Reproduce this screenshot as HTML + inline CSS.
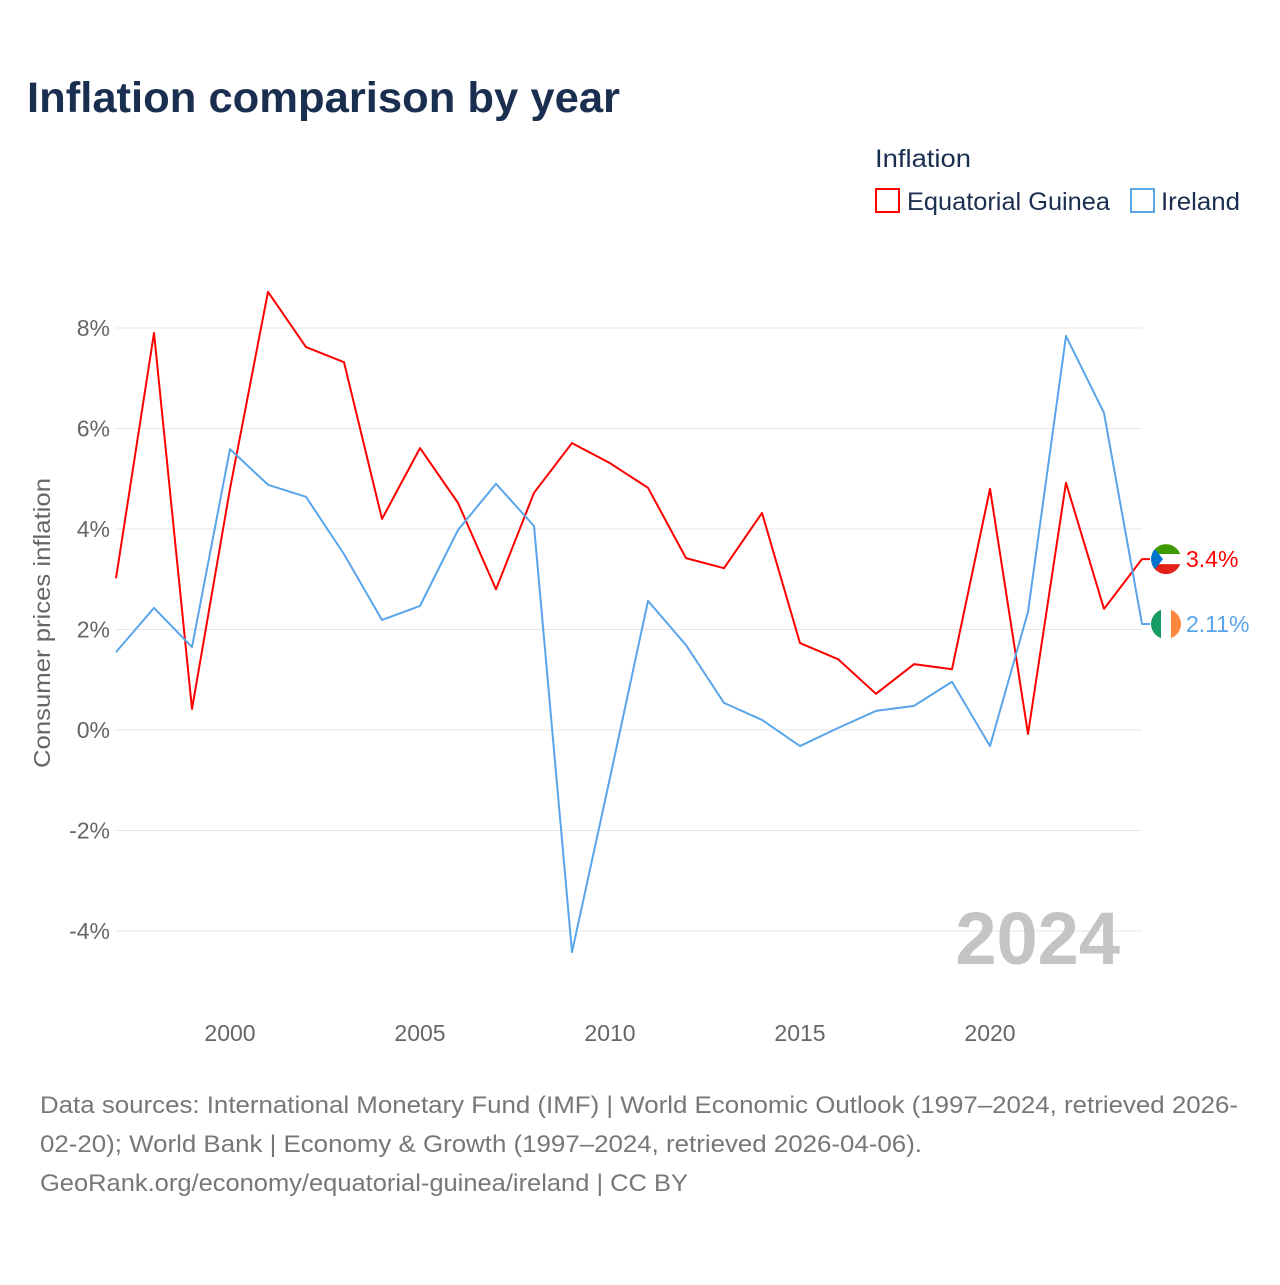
<!DOCTYPE html>
<html><head><meta charset="utf-8">
<style>
body{margin:0;background:#fff;font-family:"Liberation Sans",Lato,sans-serif;}
svg text{font-family:"Liberation Sans",sans-serif;}
</style></head>
<body>
<svg width="1280" height="1280" viewBox="0 0 1280 1280">
<text x="27" y="112" font-size="43" font-weight="bold" fill="#1a2e4f" textLength="593" lengthAdjust="spacingAndGlyphs">Inflation comparison by year</text>
<text x="875" y="167" font-size="25" fill="#1a2e4f" textLength="96" lengthAdjust="spacingAndGlyphs">Inflation</text>
<g>
<rect x="876" y="189" width="23" height="23" fill="none" stroke="#ff0000" stroke-width="2"/>
<text x="907" y="210" font-size="25" fill="#1a2e4f" textLength="203" lengthAdjust="spacingAndGlyphs">Equatorial Guinea</text></g>
<g>
<rect x="1131" y="189" width="23" height="23" fill="none" stroke="#5aa5ea" stroke-width="2"/>
<text x="1161" y="210" font-size="25" fill="#1a2e4f" textLength="79" lengthAdjust="spacingAndGlyphs">Ireland</text></g>
<g id="grid"></g>
<g id="yt"></g>
<g id="xt"></g>
<text x="1120" y="964" text-anchor="end" font-size="74" font-weight="bold" fill="#c4c4c4">2024</text>
<text transform="translate(50,623) rotate(-90)" text-anchor="middle" font-size="23" fill="#666" textLength="290" lengthAdjust="spacingAndGlyphs">Consumer prices inflation</text>
<g id="series"></g>
<g id="ends"></g>
<g font-size="24" fill="#777">
<text x="40" y="1113" textLength="1198" lengthAdjust="spacingAndGlyphs">Data sources: International Monetary Fund (IMF) | World Economic Outlook (1997–2024, retrieved 2026-</text>
<text x="40" y="1152" textLength="882" lengthAdjust="spacingAndGlyphs">02-20); World Bank | Economy &amp; Growth (1997–2024, retrieved 2026-04-06).</text>
<text x="40" y="1191" textLength="648" lengthAdjust="spacingAndGlyphs">GeoRank.org/economy/equatorial-guinea/ireland | CC BY</text>
</g>
</svg>
<script>
const years=[1997,1998,1999,2000,2001,2002,2003,2004,2005,2006,2007,2008,2009,2010,2011,2012,2013,2014,2015,2016,2017,2018,2019,2020,2021,2022,2023,2024];
const eqGuinea=[3.02,7.9,0.42,4.8,8.72,7.62,7.32,4.2,5.61,4.52,2.8,4.72,5.71,5.31,4.82,3.42,3.22,4.32,1.73,1.41,0.72,1.31,1.21,4.8,-0.08,4.92,2.41,3.4];
const ireland=[1.55,2.43,1.65,5.59,4.88,4.64,3.5,2.19,2.47,3.98,4.9,4.06,-4.42,-0.95,2.57,1.69,0.54,0.2,-0.32,0.04,0.38,0.48,0.96,-0.32,2.35,7.84,6.31,2.11];
const yTicks=[-4,-2,0,2,4,6,8];
const xTicks=[2000,2005,2010,2015,2020];
const NS="http://www.w3.org/2000/svg";
const X=y=>116+(y-1997)*38;
const Y=v=>730-v*50.25;
function mk(t,a,p){const e=document.createElementNS(NS,t);for(const k in a)e.setAttribute(k,a[k]);p.appendChild(e);return e;}
const g=document.getElementById('grid'),yt=document.getElementById('yt'),xt=document.getElementById('xt');
yTicks.forEach(v=>{
const l=mk('line',{x1:116,x2:1142,y1:Y(v),y2:Y(v),stroke:'#e6e6e6','stroke-width':1},g);


const t=mk('text',{x:110,y:Y(v)+8,'text-anchor':'end','font-size':23,fill:'#666'},yt);
t.textContent=v+'%';


});
xTicks.forEach(v=>{
const t=mk('text',{x:X(v),y:1041,'text-anchor':'middle','font-size':23,fill:'#666'},xt);
t.textContent=v;


});
const s=document.getElementById('series'),en=document.getElementById('ends');
function line(vals,col,name,lab,flag){
const d=vals.map((v,i)=>(i?'L':'M')+X(years[i])+','+Y(v)).join(' ');
const p=mk('path',{d:d+' L1150,'+Y(vals[vals.length-1]),fill:'none',stroke:col,'stroke-width':2,'stroke-linejoin':'round'},s);


const yy=Y(vals[vals.length-1]);
const fg=mk('g',{},en);


if(flag==='ie'){
mk('clipPath',{id:'cie'},fg).appendChild(document.createElementNS(NS,'circle'));
const c=fg.querySelector('circle');c.setAttribute('cx',1166);c.setAttribute('cy',yy);c.setAttribute('r',15);
mk('rect',{x:1151,y:yy-15,width:10,height:30,fill:'#169b62','clip-path':'url(#cie)'},fg);
mk('rect',{x:1161,y:yy-15,width:10,height:30,fill:'#fff','clip-path':'url(#cie)'},fg);
mk('rect',{x:1171,y:yy-15,width:10,height:30,fill:'#ff883e','clip-path':'url(#cie)'},fg);
}else{
mk('clipPath',{id:'ceq'},fg).appendChild(document.createElementNS(NS,'circle'));
const c=fg.querySelector('circle');c.setAttribute('cx',1166);c.setAttribute('cy',yy);c.setAttribute('r',15);
mk('rect',{x:1151,y:yy-15,width:30,height:10,fill:'#3e9a00','clip-path':'url(#ceq)'},fg);
mk('rect',{x:1151,y:yy-5,width:30,height:10,fill:'#fff','clip-path':'url(#ceq)'},fg);
mk('rect',{x:1151,y:yy+5,width:30,height:10,fill:'#e32118','clip-path':'url(#ceq)'},fg);
mk('path',{d:`M1151,${yy-15} L1163,${yy} L1151,${yy+15}Z`,fill:'#0073ce','clip-path':'url(#ceq)'},fg);
}
const t=mk('text',{x:1186,y:yy+8,'font-size':23,fill:col},en);
t.textContent=lab;


}
line(eqGuinea,'#ff0000','equatorial-guinea','3.4%','eq');
line(ireland,'#5aa5ea','ireland','2.11%','ie');
</script>
</body></html>
